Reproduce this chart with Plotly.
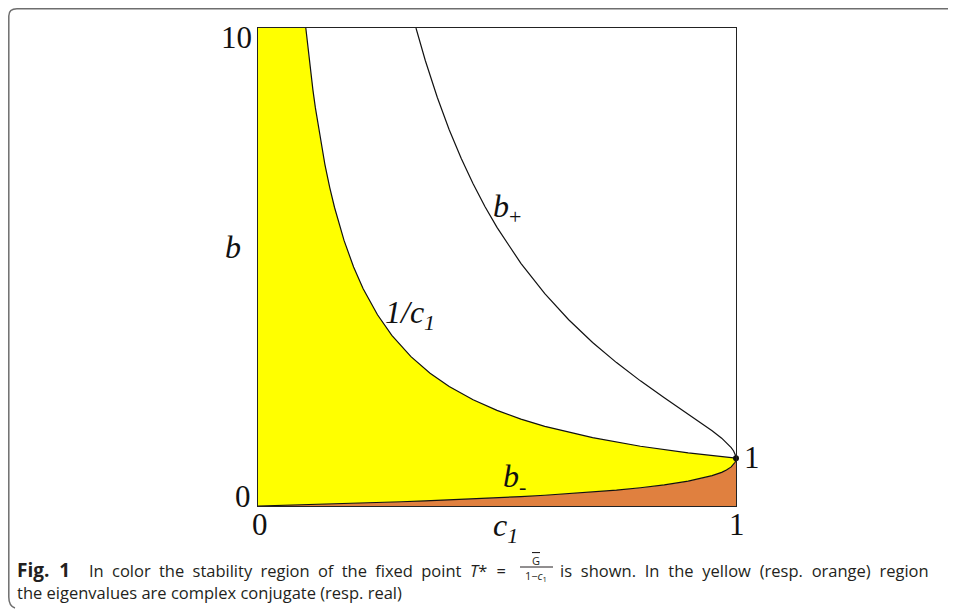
import plotly.graph_objects as go

# ---- data ----
c1_lower = [0, 0.02, 0.05, 0.1, 0.15, 0.2, 0.25, 0.3, 0.35, 0.4, 0.45, 0.5, 0.55, 0.6, 0.65,
            0.7, 0.75, 0.8, 0.85, 0.9, 0.93, 0.95, 0.97, 0.98, 0.99, 0.995, 0.998, 0.999, 0.9995, 1.0]
b_minus = [0, 0.0051, 0.0128, 0.0263, 0.0406, 0.0557, 0.0718, 0.0889, 0.1073, 0.1270, 0.1484,
           0.1716, 0.1970, 0.2252, 0.2566, 0.2922, 0.3333, 0.3820, 0.4417, 0.5195, 0.5816,
           0.6345, 0.7047, 0.7522, 0.8182, 0.8679, 0.9144, 0.9387, 0.9563, 1.0]

c1_upper = [0.3305, 0.35, 0.375, 0.4, 0.425, 0.45, 0.475, 0.5, 0.55, 0.6, 0.65, 0.7, 0.75, 0.8,
            0.85, 0.9, 0.93, 0.95, 0.97, 0.98, 0.99, 0.995, 0.998, 0.999, 0.9995, 1.0]
b_plus = [10.0, 9.321, 8.550, 7.873, 7.274, 6.741, 6.261, 5.828, 5.076, 4.442, 3.897, 3.422,
          3.0, 2.618, 2.264, 1.925, 1.720, 1.576, 1.419, 1.329, 1.222, 1.152, 1.094, 1.065,
          1.046, 1.0]

c1_inv = [0.1, 0.105, 0.11, 0.115, 0.12, 0.13, 0.14, 0.15, 0.16, 0.18, 0.2, 0.22, 0.25, 0.28,
          0.32, 0.36, 0.4, 0.45, 0.5, 0.55, 0.6, 0.7, 0.8, 0.9, 1.0]
inv_c1 = [10, 9.524, 9.091, 8.696, 8.333, 7.692, 7.143, 6.667, 6.25, 5.556, 5.0, 4.545, 4.0,
          3.571, 3.125, 2.778, 2.5, 2.222, 2.0, 1.818, 1.667, 1.429, 1.25, 1.111, 1.0]

x_ticks = [0, 1]
x_tick_labels = ["0", "1"]
y_ticks = [0, 10]
y_tick_labels = ["0", "10"]

YELLOW = "#FFFF00"
ORANGE = "#E0803F"
INK = "#111111"
SERIF = "Liberation Serif, Times New Roman, serif"
SANS = "Open Sans, Noto Sans, sans-serif"

# the page body has an 8px margin, so the paper starts at page (8, 8)
OFF = 8
W, H = 956 - OFF, 615 - OFF
L, R, T, B = 258 - OFF, 736 - OFF, 28 - OFF, 506 - OFF


def px(xp, yp):
    """page pixel -> paper coordinates"""
    xp, yp = xp - OFF, yp - OFF
    return (xp - L) / (R - L), (B - yp) / (B - T)


fig = go.Figure()

fig.add_trace(go.Scatter(x=c1_lower, y=b_minus, mode="lines", fill="tozeroy",
                         fillcolor=ORANGE, line=dict(color=INK, width=1.2),
                         hoverinfo="skip", showlegend=False))
fig.add_trace(go.Scatter(x=[0] + c1_inv, y=[10] + inv_c1, mode="lines", fill="tonexty",
                         fillcolor=YELLOW, line=dict(color=YELLOW, width=0),
                         hoverinfo="skip", showlegend=False))
fig.add_trace(go.Scatter(x=c1_inv, y=inv_c1, mode="lines",
                         line=dict(color=INK, width=1.2), showlegend=False))
fig.add_trace(go.Scatter(x=c1_upper, y=b_plus, mode="lines",
                         line=dict(color=INK, width=1.2), showlegend=False))
fig.add_trace(go.Scatter(x=[c1_upper[-1]], y=[b_plus[-1]], mode="markers",
                         marker=dict(color=INK, size=6), showlegend=False, cliponaxis=False))

anns = []


def add_text(text, xp, yp, size, font=SERIF, xanchor="center", yanchor="middle", color=INK):
    x, y = px(xp, yp)
    anns.append(dict(text=text, x=x, y=y, xref="paper", yref="paper", showarrow=False,
                     xanchor=xanchor, yanchor=yanchor,
                     font=dict(family=font, size=size, color=color)))


def sub(t, size=22):
    return "<sub><span style='font-size:%dpx'>%s</span></sub>" % (size, t)


def spaced(t, ws):
    return "<span style='word-spacing:%spx'>%s</span>" % (ws, t)


# tick labels
add_text(x_tick_labels[0], 260, 524, 31)
add_text(x_tick_labels[1], 737, 524, 31)
add_text(y_tick_labels[0], 243, 496, 31)
add_text(y_tick_labels[1], 236, 37, 31)
# axis titles
add_text("<i>c</i>" + sub("<i>1</i>"), 505, 527, 32)
add_text("<i>b</i>", 233, 247, 32)
# curve labels
add_text("<i>b</i>" + sub("+"), 507, 209, 32)
add_text("<i>1/c</i>" + sub("<i>1</i>"), 410, 314, 32)
add_text("<i>b</i>" + sub("-"), 514, 478, 32)
add_text("1", 752, 457, 31)

# caption (first line is justified in the reference)
CAP = "#231F20"
add_text(spaced("<b>Fig. 1</b>", 5), 15, 570, 19, font=SANS, xanchor="left", color=CAP)
add_text(spaced("In color the stability region of the fixed point", 4),
         87, 570, 16.5, font=SANS, xanchor="left", color=CAP)
add_text(spaced("<i>T</i>* =", 5), 468, 570, 16.5, font=SANS, xanchor="left", color=CAP)
add_text("<span style='text-decoration:overline'>G</span>", 536, 560, 11, font=SANS, color=CAP)
add_text("1−<i>c</i><sub>1</sub>", 536, 576, 11, font=SANS, color=CAP)
add_text(spaced("is shown. In the yellow (resp. orange) region", 4.5),
         558, 570, 16.5, font=SANS, xanchor="left", color=CAP)
add_text("the eigenvalues are complex conjugate (resp. real)", 15, 592, 16.5, font=SANS,
         xanchor="left", color=CAP)

shapes = []
fx0, fy = px(520, 567)
fx1, _ = px(553, 567)
shapes.append(dict(type="line", xref="paper", yref="paper", x0=fx0, x1=fx1, y0=fy, y1=fy,
                   line=dict(color=CAP, width=1)))
# figure frame (rounded left corners); kept just inside the paper
pts = {k: px(*v) for k, v in dict(a=(956, 8.8), b=(17, 8.8), c=(8.8, 8.8), d=(8.8, 16),
                                  e=(8.8, 597), f=(8.8, 606), g=(15, 608)).items()}
path = "M {a[0]},{a[1]} L {b[0]},{b[1]} Q {c[0]},{c[1]} {d[0]},{d[1]} L {e[0]},{e[1]} " \
       "Q {f[0]},{f[1]} {g[0]},{g[1]}".format(**pts)
shapes.append(dict(type="path", path=path, xref="paper", yref="paper",
                   line=dict(color="#6E6E6E", width=1.5)))

fig.update_layout(
    width=W, height=H,
    margin=dict(l=L, r=W - R, t=T, b=H - B, pad=0),
    paper_bgcolor="white", plot_bgcolor="white",
    annotations=anns, shapes=shapes,
    xaxis=dict(range=[0, 1], showgrid=False, zeroline=False, showticklabels=False,
               ticks="", showline=True, mirror=True, linecolor="#222", linewidth=1.3,
               tickvals=x_ticks),
    yaxis=dict(range=[0, 10], showgrid=False, zeroline=False, showticklabels=False,
               ticks="", showline=True, mirror=True, linecolor="#222", linewidth=1.3,
               tickvals=y_ticks),
)

fig.write_html("out.html")
